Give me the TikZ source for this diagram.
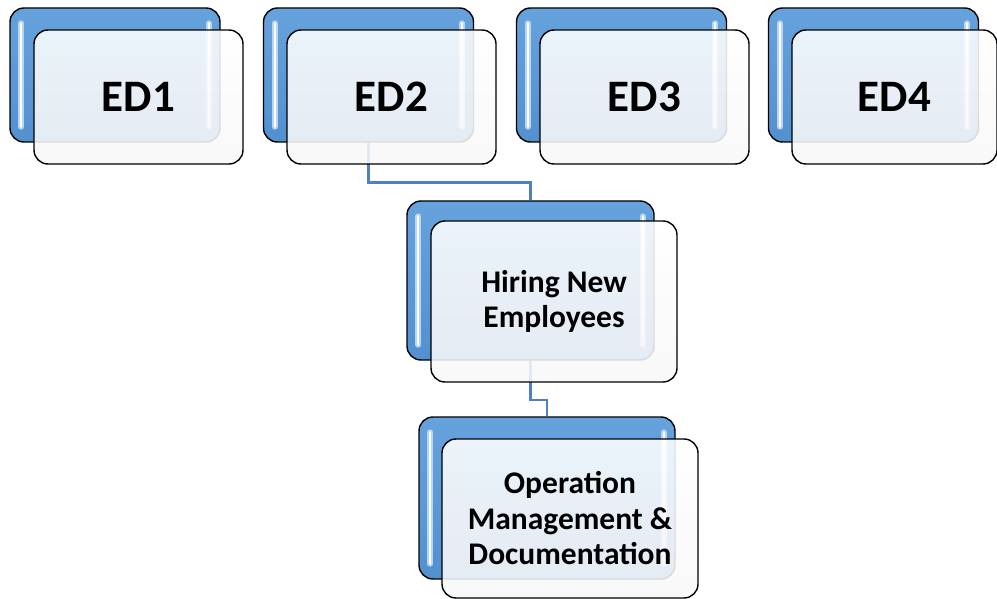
\documentclass[tikz,border=0pt]{standalone}
\usepackage{fontspec}
\setmainfont{Carlito}
\usetikzlibrary{calc}
\definecolor{conn}{HTML}{4F81BD}
\definecolor{blueT}{HTML}{66A2DC}
\definecolor{blueB}{HTML}{5390D0}
\definecolor{glow}{HTML}{B8D6F2}
\tikzset{
  backbox/.style={draw=black, line width=1.4pt, rounded corners=14pt,
    top color=blueT, bottom color=blueB, inner sep=0pt},
  frontbox/.style={draw=black, line width=1.4pt, rounded corners=14pt,
    top color=white, bottom color=black!3, fill opacity=0.88, text opacity=1,
    inner sep=0pt, align=center, font=\bfseries},
  edfont/.style={font=\fontsize{45}{50}\selectfont\bfseries},
  subfont/.style={font=\fontsize{31.5}{35.5}\selectfont\bfseries},
  connector/.style={draw=conn, line width=2.2pt},
  shine/.style={draw=glow, line width=6pt, line cap=round},
  shinecore/.style={draw=white, line width=2.2pt, line cap=round}
}
\newcommand{\shines}[1]{%
  \draw[shine] ($(#1.north west)+(12,16)$) -- ($(#1.south west)+(12,-16)$);
  \draw[shinecore] ($(#1.north west)+(12,16)$) -- ($(#1.south west)+(12,-16)$);
  \draw[shine] ($(#1.north east)+(-12,16)$) -- ($(#1.south east)+(-12,-16)$);
  \draw[shinecore] ($(#1.north east)+(-12,16)$) -- ($(#1.south east)+(-12,-16)$);
}
\begin{document}
\begin{tikzpicture}[x=1pt,y=-1pt]
\useasboundingbox (0,0) rectangle (997,599);
% back boxes
\node[backbox, minimum width=210pt, minimum height=134pt] (b1) at (115,75) {};
\node[backbox, minimum width=210pt, minimum height=134pt] (b2) at (368.5,75) {};
\node[backbox, minimum width=210pt, minimum height=134pt] (b3) at (621.5,75) {};
\node[backbox, minimum width=210pt, minimum height=134pt] (b4) at (873.5,75) {};
\node[backbox, minimum width=247pt, minimum height=159pt] (hb) at (530.5,280.5) {};
\node[backbox, minimum width=256pt, minimum height=162pt] (ob) at (547,498) {};
\shines{b1}\shines{b2}\shines{b3}\shines{b4}\shines{hb}\shines{ob}
% helpers for connector elbows
\coordinate (m1) at (0,182.5);
\coordinate (m2) at (0,400);
% connectors
\draw[connector] (b2.south) -- (b2.south |- m1) -| (hb.north);
\draw[connector] (hb.south) -- (hb.south |- m2) -| (ob.north);
% front boxes
\node[frontbox, edfont, minimum width=209pt, minimum height=134pt] (f1) at (138.5,97) {ED1};
\node[frontbox, edfont, minimum width=209pt, minimum height=134pt] (f2) at (391.5,97) {ED2};
\node[frontbox, edfont, minimum width=209pt, minimum height=134pt] (f3) at (644.5,97) {ED3};
\node[frontbox, edfont, minimum width=205pt, minimum height=134pt] (f4) at (894.5,97) {ED4};
\node[frontbox, subfont, minimum width=246pt, minimum height=161pt] (hf) at (554,301.5) {Hiring New\\Employees};
\node[frontbox, subfont, minimum width=256pt, minimum height=159pt] (of) at (570,518.5) {Operation\\Management \&\\Documentation};
\end{tikzpicture}
\end{document}
